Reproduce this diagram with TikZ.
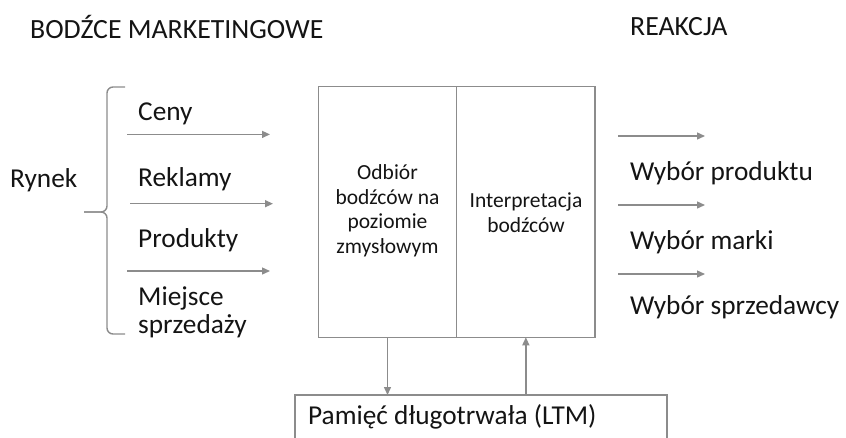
\documentclass[tikz,border=0pt]{standalone}
\usepackage{fontspec}
\setmainfont{Carlito}
\usetikzlibrary{arrows.meta}
\definecolor{lg}{HTML}{8C8C8C}
\definecolor{tx}{HTML}{141414}
\begin{document}
\begin{tikzpicture}[x=1pt,y=-1pt,
 lbl/.style={anchor=west,inner sep=0pt,font=\fontsize{27.3}{30}\selectfont,text=tx},
 hdr/.style={anchor=west,inner sep=0pt,font=\fontsize{27.8}{32}\selectfont,text=tx},
 inbox/.style={align=center,inner sep=0pt,font=\fontsize{21.5}{24.5}\selectfont,text=tx},
 arr/.style={draw=lg,line width=1.4pt,-{Triangle[length=8pt,width=7pt]}},
 frame/.style={draw=lg,line width=1.4pt,inner sep=0pt,outer sep=0pt}]
\useasboundingbox (0,0) rectangle (846,437);
\clip (0,0) rectangle (846,437);
% headers
\node[hdr] (h1) at (30,27) {BODŹCE MARKETINGOWE};
\node[hdr] (h2) at (630,27) {REAKCJA};
% brace and Rynek
\draw[draw=lg,line width=1.4pt,rounded corners=6pt]
  (125,87) -- (107,87) -- (107,212) -- (84,212);
\draw[draw=lg,line width=1.4pt,rounded corners=6pt]
  (84,212) -- (107,212) -- (107,334) -- (125,334);
\node[lbl] (rynek) at (10,180) {Rynek};
% stimuli
\node[lbl] (ceny) at (138,114) {Ceny};
\node[lbl] (rekl) at (138,179) {Reklamy};
\node[lbl] (prod) at (138,240) {Produkty};
\node[lbl,align=left,font=\fontsize{27.3}{28}\selectfont] (miej) at (138,312) {Miejsce\\sprzedaży};
\coordinate (a1s) at (127,134.4); \coordinate (a1e) at (270,134.4);
\coordinate (a2s) at (130,203.7); \coordinate (a2e) at (273,203.7);
\coordinate (a3s) at (127,271); \coordinate (a3e) at (270,271);
\draw[arr] (a1s) -- (a1e);
\draw[arr] (a2s) -- (a2e);
\draw[arr] (a3s) -- (a3e);
% central box
\node[frame,minimum width=138.4pt,minimum height=250.6pt,anchor=north west] (odb) at (318.3,86.7) {};
\node[frame,minimum width=138.3pt,minimum height=250.6pt,anchor=north west] (intp) at (456.7,86.7) {};
\node[inbox] (odbt) at (387.5,211) {Odbiór\\bodźców na\\poziomie\\zmysłowym};
\node[inbox] (intpt) at (526,212.5) {Interpretacja\\bodźców};
% reactions
\coordinate (r1s) at (618,136); \coordinate (r1e) at (705,136);
\coordinate (r2s) at (618,205); \coordinate (r2e) at (705,205);
\coordinate (r3s) at (618,274); \coordinate (r3e) at (705,274);
\draw[arr] (r1s) -- (r1e);
\draw[arr] (r2s) -- (r2e);
\draw[arr] (r3s) -- (r3e);
\node[lbl] (w1) at (630,173) {Wybór produktu};
\node[lbl] (w2) at (630,242) {Wybór marki};
\node[lbl] (w3) at (630,307) {Wybór sprzedawcy};
% memory
\node[frame,minimum width=372pt,minimum height=70pt,anchor=north west] (ltm) at (295,395) {};
\node[lbl] (ltmt) at (308,417) {Pamięć długotrwała (LTM)};
\draw[arr] (odb.south) -- (odb.south |- ltm.north);
\draw[arr] (intp.south |- ltm.north) -- (intp.south);
\end{tikzpicture}
\end{document}
